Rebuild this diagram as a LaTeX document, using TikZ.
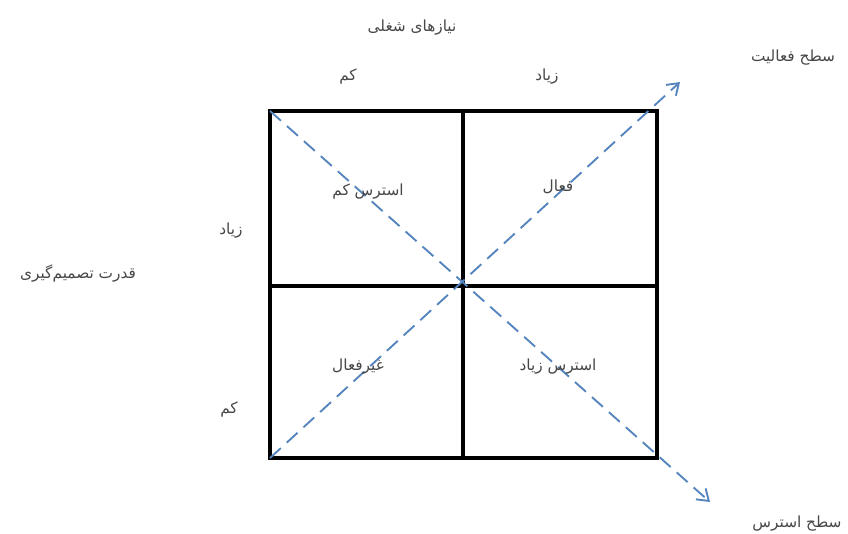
\documentclass[tikz,border=0pt]{standalone}
\usepackage{fontspec}
\usetikzlibrary{arrows.meta}
\newfontfamily\farsifont[Script=Arabic]{DejaVu Sans}
\TeXXeTstate=1
\definecolor{diagblue}{RGB}{84,132,190}

\begin{document}
\begin{tikzpicture}[x=0.75pt,y=-0.75pt,
    lbl/.style={font=\farsifont\fontsize{11.5}{13}\selectfont, text=black!72, inner sep=1pt},
    diagarrow/.style={diagblue, line width=1.4pt, dash pattern=on 11pt off 6pt,
      -{Straight Barb[length=8pt,width=11pt,line width=1.4pt]}}]
    \useasboundingbox (0,0) rectangle (848,533);

    % the four cells
    \coordinate (tl) at (270,111);
    \coordinate (tr) at (657,111);
    \coordinate (bl) at (270,458);
    \coordinate (br) at (657,458);
    \draw[line width=2.6pt] (tl) rectangle (br);
    \draw[line width=2.6pt] (463,111) -- (463,458);
    \draw[line width=2.6pt] (270,286) -- (657,286);

    % diagonal axes
    \coordinate (actEnd) at (680,82);
    \coordinate (strEnd) at (710,502);
    \draw[diagarrow] (bl) -- (actEnd);
    \draw[diagarrow] (tl) -- (strEnd);

    % axis labels
    \node[lbl] (demand) at (412,28) {\beginR نیازهای شغلی\endR};
    \node[lbl] (demLow) at (348,77) {\beginR کم\endR};
    \node[lbl] (demHigh) at (547,77) {\beginR زیاد\endR};
    \node[lbl] (decision) at (78,273) {\beginR قدرت تصمیم‌گیری\endR};
    \node[lbl] (decHigh) at (231,231) {\beginR زیاد\endR};
    \node[lbl] (decLow) at (229,410) {\beginR کم\endR};
    \node[lbl] (activity) at (793,58) {\beginR سطح فعالیت\endR};
    \node[lbl] (stress) at (797,524) {\beginR سطح استرس\endR};

    % cell labels
    \node[lbl] (lowStress) at (368,192) {\beginR استرس کم\endR};
    \node[lbl] (active) at (558,187) {\beginR فعال\endR};
    \node[lbl] (passive) at (358,367) {\beginR غیرفعال\endR};
    \node[lbl] (highStress) at (558,367) {\beginR استرس زیاد\endR};
\end{tikzpicture}
\end{document}
